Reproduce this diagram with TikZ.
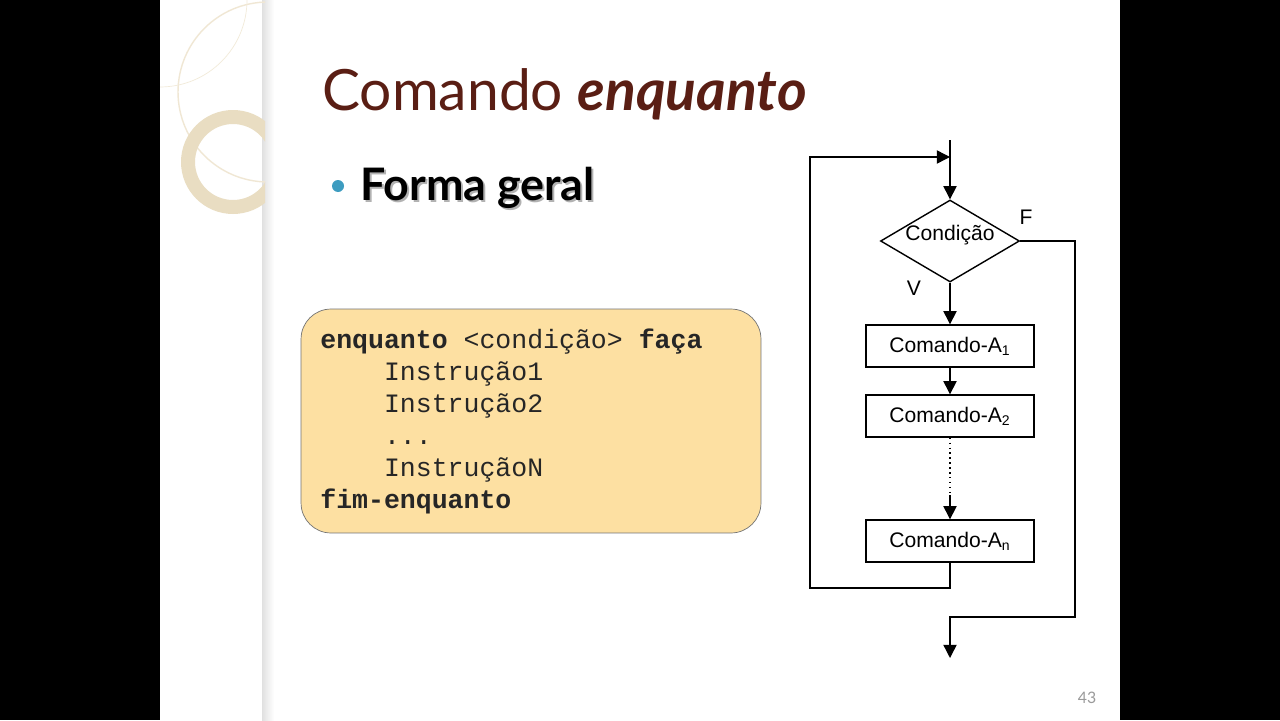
\documentclass[tikz,border=0pt]{standalone}
\usepackage{fontspec}
\setmainfont{Lato}
\newfontfamily\codefont{Liberation Mono}
\newfontfamily\flowfont{Liberation Sans}
\usepackage{tikz}
\usetikzlibrary{positioning, arrows.meta, shapes.geometric, calc}
\usepackage{xcolor}
\definecolor{titlebrown}{HTML}{5A1E14}
\definecolor{bulletblue}{HTML}{3D9CC0}
\definecolor{codefill}{HTML}{FDE0A2}
\definecolor{ringbeige}{HTML}{E9DDC2}
\definecolor{pagegray}{HTML}{9A9A9A}

\begin{document}
\begin{tikzpicture}[x=0.02cm, y=-0.02cm,
    every node/.style={inner sep=0pt},
    arr/.style={-{Triangle[length=7.5pt, width=7.5pt]}, line width=0.8pt},
    cmd/.style={draw, line width=0.8pt, minimum width=3.36cm, minimum height=0.84cm, font=\flowfont\fontsize{12}{14}\selectfont},
    cond/.style={draw, diamond, aspect=1.7, line width=0.8pt, minimum width=2.78cm, minimum height=1.64cm, text height=7pt, text depth=8pt, font=\flowfont\fontsize{12}{14}\selectfont},
    flowlbl/.style={font=\flowfont\fontsize{12}{14}\selectfont},
    codebox/.style={draw=black!55, fill=codefill, rounded corners=0.6cm, minimum width=9.2cm, minimum height=4.48cm},
    codeline/.style={anchor=base west, font=\codefont\fontsize{15.1}{18}\selectfont, text=black!85},
  ]
  \useasboundingbox (0,0) rectangle (1280,720);
  % Slide and borders
  \fill[black] (0,0) rectangle (160,720);
  \fill[black] (1120,0) rectangle (1280,720);
  \fill[white] (160,0) rectangle (1120,720);
  \shade[left color=black!12, right color=white] (262,0) rectangle (274,720);

  % Decoration
  \begin{scope}
    \clip (160,0) rectangle (265,720);
    \draw[ringbeige!70, line width=0.8pt] (268,92) circle[radius=1.8cm];
    \draw[ringbeige, line width=0.28cm] (233,162) circle[radius=0.9cm];
    \draw[ringbeige!60, line width=0.4pt] (160,0) circle[radius=1.74cm];
  \end{scope}

  % Title and bullet
  \node[anchor=base west, text=titlebrown, font=\fontsize{32.4}{40}\selectfont] (title) at (322,110) {Comando \textbf{\textit{enquanto}}};
  \fill[bulletblue] (338,186) circle[radius=0.12cm];
  \node[anchor=base west, text=black!30, font=\bfseries\fontsize{25.5}{30}\selectfont] (shadow) at (362,202) {Forma geral};
  \node[anchor=base west, font=\bfseries\fontsize{25.5}{30}\selectfont] (forma) at (360,200) {Forma geral};

  % Pseudocode
  \node[codebox] (code) at (531,421) {};
  \node[codeline] (l1) at (320,348) {\textbf{enquanto} <condição> \textbf{faça}};
  \node[codeline] (l2) at (320,380) {\phantom{0000}Instrução1};
  \node[codeline] (l3) at (320,412) {\phantom{0000}Instrução2};
  \node[codeline] (l4) at (320,444) {\phantom{0000}...};
  \node[codeline] (l5) at (320,476) {\phantom{0000}InstruçãoN};
  \node[codeline] (l6) at (320,508) {\textbf{fim-enquanto}};

  % Flowchart
  \coordinate (entry) at (950,140);
  \coordinate (join) at (950,157);
  \node[cond] (test) at (950,241) {Condição};
  \node[cmd] (a1) at (950,346) {Comando-A\textsubscript{1}};
  \node[cmd] (a2) at (950,416) {Comando-A\textsubscript{2}};
  \node[cmd] (an) at (950,541) {Comando-A\textsubscript{n}};
  \node[flowlbl] (f) at (1026,217) {F};
  \node[flowlbl] (v) at (914,288) {V};
  \coordinate (gap) at (950,495);
  \coordinate (loopl) at (810,588);
  \coordinate (exitr) at (1075,617);
  \coordinate (exit) at (950,658);

  \draw[arr] (entry) -- (test.north);
  \draw[arr] (test.south) -- (a1.north);
  \draw[arr] (a1.south) -- (a2.north);
  \draw[dotted, line width=0.8pt] (a2.south) -- (gap);
  \draw[arr] (gap) -- (an.north);
  \draw[arr] (an.south) |- (loopl) |- (join);
  \draw[arr] (test.east) -| (exitr) -| (exit);

  % Page number
  \node[text=pagegray, font=\fontsize{9}{11}\selectfont] (page) at (1087,698) {43};
\end{tikzpicture}
\end{document}
